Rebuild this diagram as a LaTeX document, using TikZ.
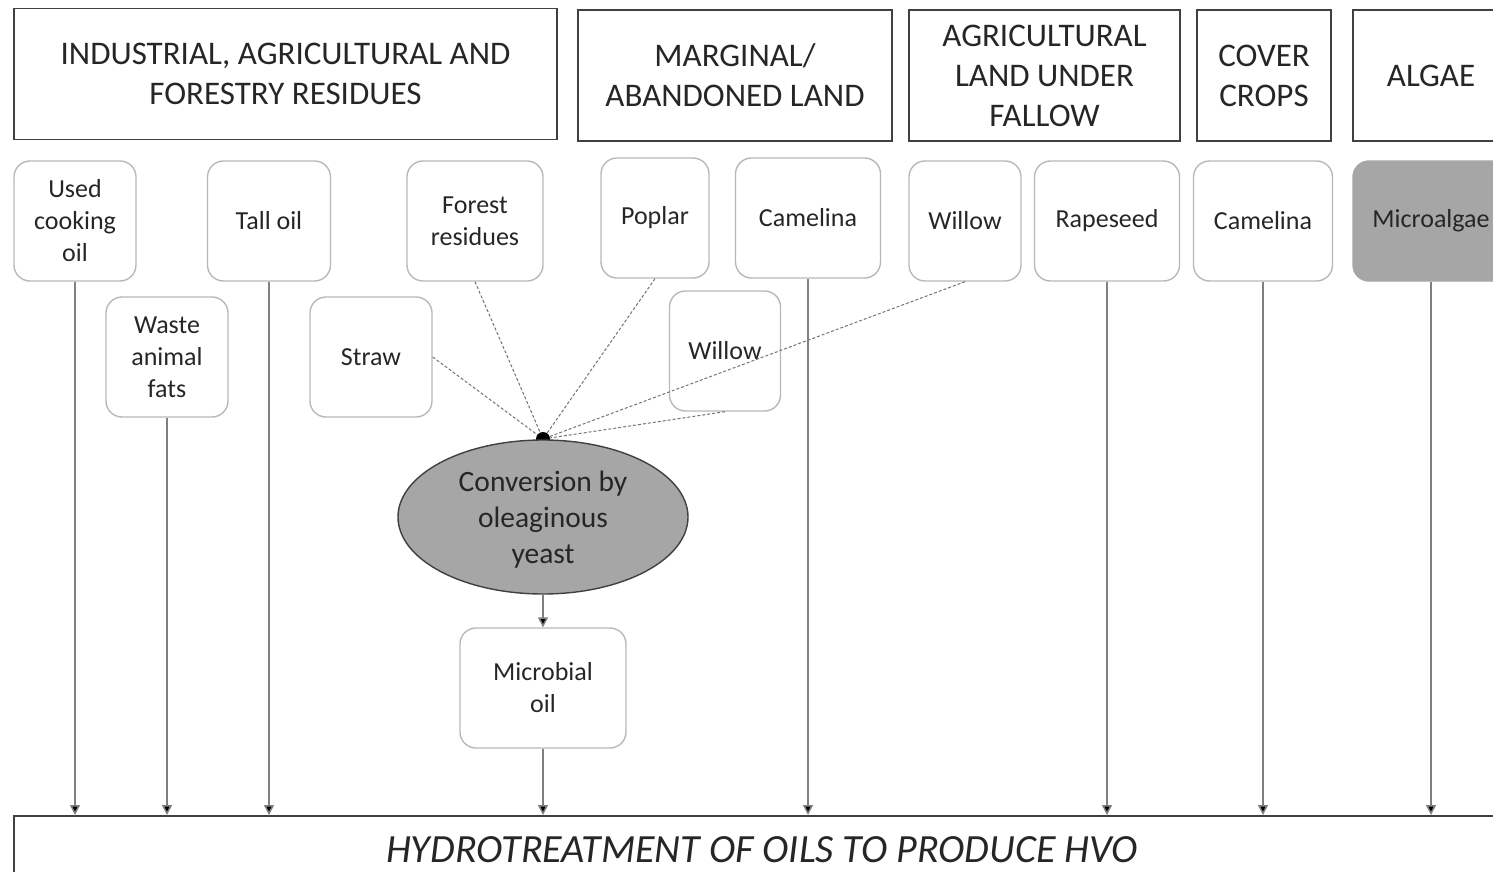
\documentclass[tikz,border=0pt]{standalone}
\usepackage{fontspec}
\setmainfont{Carlito}
\usetikzlibrary{arrows.meta,shapes.geometric}

\begin{document}
\begin{tikzpicture}[
x=1pt, y=-1pt,
font=\fontsize{26}{32}\selectfont,
categoria/.style={
    draw=black!75,
    line width=1.6pt,
    align=center,
    text=black!85,
    font=\fontsize{33}{40}\selectfont,
    minimum height=131pt,
    inner sep=0pt
},
materia/.style={
    draw=black!28,
    line width=1.4pt,
    rounded corners=16pt,
    align=center,
    text=black!85,
    minimum height=120pt,
    inner sep=0pt
},
conversion/.style={
    ellipse,
    draw=black!75,
    line width=1.4pt,
    fill=black!35,
    align=center,
    text=black!85,
    text depth=0pt,
    font=\fontsize{29.5}{36}\selectfont,
    minimum width=290pt,
    minimum height=154pt,
    inner sep=0pt
},
flecha/.style={
    -{Triangle[length=10pt,width=10pt,fill=black]},
    draw=black!50,
    line width=1.5pt
},
enlace/.style={
    draw=black!55,
    line width=1pt,
    dash pattern=on 3pt off 2pt
}
]
\useasboundingbox (0,0) rectangle (1493,872);
\clip (0,0) rectangle (1493,872);

% Categorias de origen
\node[categoria, minimum width=543pt] (residuos) at (285.5,74)
{INDUSTRIAL, AGRICULTURAL AND\\FORESTRY RESIDUES};
\node[categoria, minimum width=314pt] (marginal) at (735,75.5)
{MARGINAL/\\ABANDONED LAND};
\node[categoria, minimum width=271pt] (barbecho) at (1044.5,75.5)
{AGRICULTURAL\\LAND UNDER\\FALLOW};
\node[categoria, minimum width=134pt] (cobertura) at (1264,75.5)
{COVER\\CROPS};
\node[categoria, minimum width=156pt] (algas) at (1431,75.5)
{ALGAE};

% Materias primas
\node[materia, minimum width=122pt] (usado) at (75,221) {Used\\cooking\\oil};
\node[materia, minimum width=122pt] (grasas) at (167,357) {Waste\\animal\\fats};
\node[materia, minimum width=123pt] (tallol) at (269,221) {Tall oil};
\node[materia, minimum width=122pt] (paja) at (371,357) {Straw};
\node[materia, minimum width=136pt] (forestal) at (475,221) {Forest\\residues};
\node[materia, minimum width=108pt] (alamo) at (655,218) {Poplar};
\node[materia, minimum width=145pt] (camelinaA) at (808,218) {Camelina};
\node[materia, minimum width=111pt] (sauceB) at (725,351) {Willow};
\node[materia, minimum width=112pt] (sauceA) at (965,221) {Willow};
\node[materia, minimum width=145pt] (colza) at (1107,221) {Rapeseed};
\node[materia, minimum width=139pt] (camelinaB) at (1263,221) {Camelina};
\node[materia, minimum width=156pt, fill=black!35, draw=black!35] (microalgas) at (1431,221) {Microalgae};

% Conversion por levaduras
\coordinate (nodo) at (543,439);
\draw[enlace] (paja.east) -- (nodo);
\draw[enlace] (forestal.south) -- (nodo);
\draw[enlace] (alamo.south) -- (nodo);
\draw[enlace] (sauceB.south) -- (nodo);
\draw[enlace] (sauceA.south) -- (nodo);
\fill (nodo) circle (7pt);

\node[conversion] (conversion) at (543,517) {Conversion by\\oleaginous\\yeast};
\node[materia, minimum width=166pt] (aceite) at (543,688) {Microbial\\oil};

% Hidrotratamiento
\node[
    draw=black!75,
    line width=1.6pt,
    anchor=north,
    minimum width=1496pt,
    inner ysep=0pt,
    text height=47pt,
    text depth=40pt,
    text=black!85,
    font=\fontsize{40}{48}\selectfont\itshape
] (hidro) at (762,815) {HYDROTREATMENT OF OILS TO PRODUCE HVO};

% Flechas hacia el hidrotratamiento
\draw[flecha] (conversion.south) -- (aceite.north);
\foreach \origen in {usado,grasas,tallol,aceite,camelinaA,colza,camelinaB,microalgas}
  \draw[flecha] (\origen.south) -- (\origen.south |- hidro.north);

\end{tikzpicture}
\end{document}
